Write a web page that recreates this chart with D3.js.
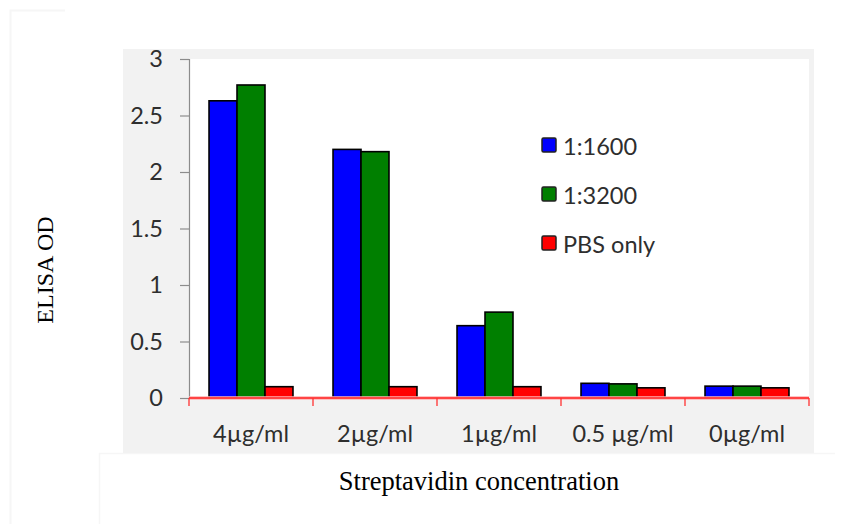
<!DOCTYPE html>
<html>
<head>
<meta charset="utf-8">
<script src="https://cdn.jsdelivr.net/npm/d3@7"></script>
<style>
  html, body { margin: 0; padding: 0; background: #ffffff; }
  svg { display: block; }
</style>
</head>
<body>
<svg id="chart" width="845" height="524"></svg>
<script>
const categories = ["4\u00b5g/ml", "2\u00b5g/ml", "1\u00b5g/ml", "0.5 \u00b5g/ml", "0\u00b5g/ml"];
const seriesNames = ["1:1600", "1:3200", "PBS only"];
const seriesColors = ["#0000ff", "#007f00", "#ff0000"];
const values1600 = [2.63, 2.20, 0.64, 0.13, 0.105];
const values3200 = [2.77, 2.18, 0.76, 0.125, 0.105];
const valuesPBS  = [0.10, 0.10, 0.10, 0.09, 0.09];
const yTicks = [0, 0.5, 1, 1.5, 2, 2.5, 3];
const yTickLabels = ["0", "0.5", "1", "1.5", "2", "2.5", "3"];

const seriesValues = [values1600, values3200, valuesPBS];
const rows = categories.map((c, i) => ({
  cat: c,
  vals: seriesNames.map((s, j) => ({ key: s, value: seriesValues[j][i], color: seriesColors[j] }))
}));

const sansFont = "Lato, 'Open Sans', sans-serif";
const sansSize = 23.5;
const textColor = "#2e2e2e";

const svg = d3.select("#chart");

// faint page artifacts
svg.append("path").attr("d", "M10.5,524 V10.5 H65").attr("fill", "none").attr("stroke", "#f6f6f6").attr("stroke-width", 2);
svg.append("path").attr("d", "M99.5,524 V453.5 H835").attr("fill", "none").attr("stroke", "#f6f6f6").attr("stroke-width", 1.5);

// gray panel
svg.append("rect").attr("x", 123).attr("y", 49).attr("width", 691).attr("height", 404).attr("fill", "#f2f2f2");
// white plot area
const plot = { left: 189, right: 809, top: 59, bottom: 398 };
svg.append("rect").attr("x", plot.left).attr("y", plot.top)
  .attr("width", plot.right - plot.left).attr("height", plot.bottom - plot.top).attr("fill", "#ffffff");

const y = d3.scaleLinear().domain([0, 3]).range([plot.bottom, plot.top]);
const x0 = d3.scaleBand().domain(categories).range([plot.left, plot.right]).paddingInner(0.323).paddingOuter(0.1615);
const x1 = d3.scaleBand().domain(seriesNames).range([0, x0.bandwidth()]);

// Y axis
const yAxis = d3.axisLeft(y).tickValues(yTicks).tickFormat((d, i) => yTickLabels[i]).tickSize(9).tickPadding(17);
const gy = svg.append("g").attr("transform", `translate(${plot.left},0)`).call(yAxis);
gy.select(".domain").attr("stroke", "#8c8c8c").attr("stroke-width", 1.2);
gy.selectAll(".tick line").attr("stroke", "#8c8c8c").attr("stroke-width", 1.2);
gy.selectAll(".tick text").attr("font-family", sansFont).attr("font-size", sansSize).attr("fill", textColor);

// bars
const groups = svg.append("g").selectAll("g").data(rows).join("g")
  .attr("transform", d => `translate(${x0(d.cat)},0)`);
groups.selectAll("rect").data(d => d.vals).join("rect")
  .attr("x", d => x1(d.key))
  .attr("y", d => y(d.value))
  .attr("width", x1.bandwidth())
  .attr("height", d => y(0) - y(d.value))
  .attr("fill", d => d.color)
  .attr("stroke", "#000000")
  .attr("stroke-width", 1.6);

// X axis (red)
const boundaries = categories.map(c => x0(c) - x0.step() * x0.paddingInner() / 2).concat([plot.right]);
const gx = svg.append("g");
gx.append("line").attr("x1", plot.left).attr("x2", plot.right).attr("y1", y(0)).attr("y2", y(0))
  .attr("stroke", "#ffb0b0").attr("stroke-width", 3.5);
gx.append("line").attr("x1", plot.left).attr("x2", plot.right).attr("y1", y(0)).attr("y2", y(0))
  .attr("stroke", "#ff2020").attr("stroke-width", 1.3);
gx.selectAll("line.tk").data(boundaries).join("line").attr("class", "tk")
  .attr("x1", d => d).attr("x2", d => d).attr("y1", y(0)).attr("y2", y(0) + 8)
  .attr("stroke", "#ff3030").attr("stroke-width", 1.3);
gx.selectAll("text").data(categories).join("text")
  .attr("x", d => x0(d) + x0.bandwidth() / 2)
  .attr("y", 442)
  .attr("text-anchor", "middle")
  .attr("font-family", sansFont).attr("font-size", sansSize).attr("fill", textColor)
  .text(d => d);

// legend
const legend = svg.append("g").selectAll("g").data(seriesNames).join("g")
  .attr("transform", (d, i) => `translate(542,${155 + i * 49})`);
legend.append("rect").attr("x", 0).attr("y", -17).attr("width", 14).attr("height", 14).attr("rx", 1.5)
  .attr("fill", (d, i) => seriesColors[i]).attr("stroke", "#222").attr("stroke-width", 1.5);
legend.append("text").attr("x", 21).attr("y", 0)
  .attr("font-family", sansFont).attr("font-size", sansSize).attr("fill", textColor)
  .text(d => d);

// axis titles
svg.append("text").attr("x", 479).attr("y", 490).attr("text-anchor", "middle")
  .attr("font-family", "'Liberation Serif', 'Times New Roman', serif").attr("font-size", 26.5).attr("fill", "#000")
  .text("Streptavidin concentration");
svg.append("text").attr("transform", "translate(53,270) rotate(-90)").attr("text-anchor", "middle")
  .attr("font-family", "'Liberation Serif', 'Times New Roman', serif").attr("font-size", 24).attr("fill", "#000")
  .text("ELISA OD");
</script>
</body>
</html>
